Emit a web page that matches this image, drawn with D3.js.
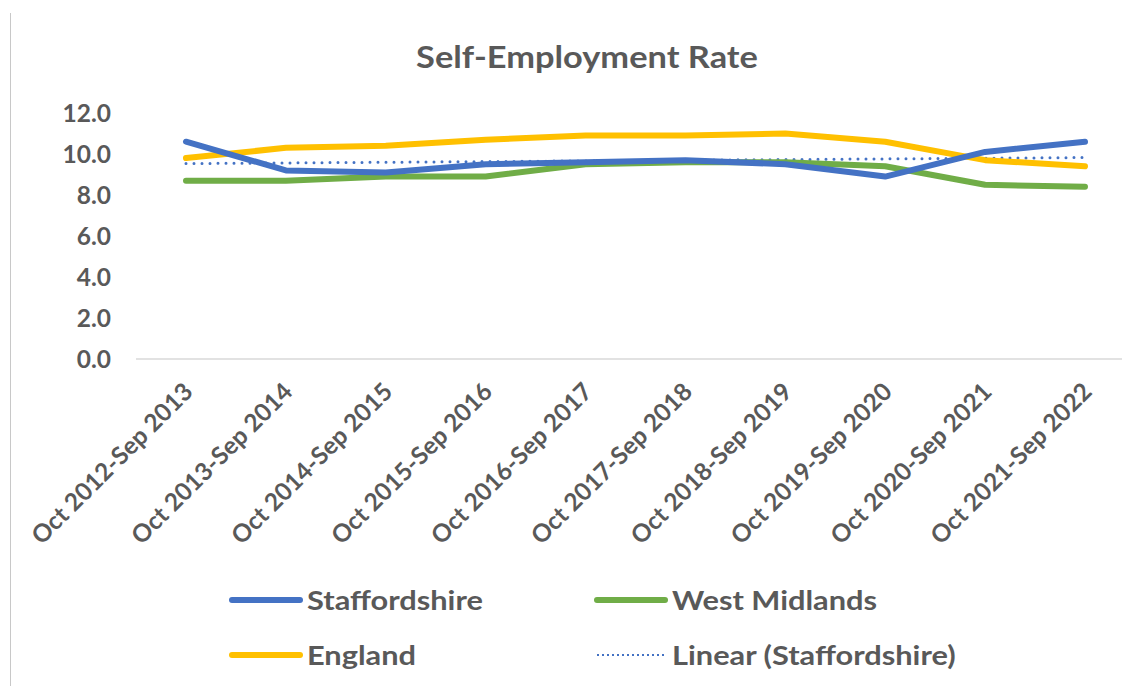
<!DOCTYPE html>
<html><head><meta charset="utf-8">
<script src="https://cdn.jsdelivr.net/npm/d3@7"></script>
<style>
html,body{margin:0;padding:0;background:#fff;}
svg{display:block;font-family:Lato, "Open Sans", sans-serif;}
</style></head>
<body>
<svg id="chart" width="1122" height="686"></svg>
<script>
const categories = ["Oct 2012-Sep 2013","Oct 2013-Sep 2014","Oct 2014-Sep 2015","Oct 2015-Sep 2016","Oct 2016-Sep 2017","Oct 2017-Sep 2018","Oct 2018-Sep 2019","Oct 2019-Sep 2020","Oct 2020-Sep 2021","Oct 2021-Sep 2022"];
const staffordshire = [10.6, 9.2, 9.1, 9.5, 9.6, 9.7, 9.5, 8.9, 10.1, 10.6];
const westMidlands = [8.7, 8.7, 8.9, 8.9, 9.5, 9.6, 9.6, 9.4, 8.5, 8.4];
const england = [9.8, 10.3, 10.4, 10.7, 10.9, 10.9, 11.0, 10.6, 9.7, 9.4];
const yTicks = [0, 2, 4, 6, 8, 10, 12];
const title = "Self-Employment Rate";

const svg = d3.select("#chart");
const textColor = "#595959";

// chart-area left border
svg.append("line").attr("x1",10.5).attr("x2",10.5).attr("y1",13).attr("y2",686)
  .attr("stroke","#c8c8c8").attr("stroke-width",1);

const x = d3.scalePoint().domain(categories).range([186, 1085]);
const y = d3.scaleLinear().domain([0, 12]).range([359, 113]);

// title
svg.append("g").attr("transform","translate(587,68) scale(1.11,1)")
  .append("text").attr("x", 0).attr("y", 0).attr("text-anchor","middle")
  .attr("fill", textColor).attr("font-size", 31).attr("font-weight","bold").text(title);

// y axis
const yAxis = svg.append("g").attr("transform","translate(111,0)")
  .call(d3.axisLeft(y).tickValues(yTicks).tickFormat(d3.format(".1f")).tickSize(0).tickPadding(0));
yAxis.select(".domain").remove();
yAxis.selectAll("text").attr("fill", textColor).attr("font-size", 24.5).attr("font-weight","bold")
  .attr("font-family","Lato, sans-serif").attr("dy","0.36em");

// baseline
svg.append("line").attr("x1",136).attr("x2",1140).attr("y1",y(0)).attr("y2",y(0))
  .attr("stroke","#d9d9d9").attr("stroke-width",1.5);

// x labels
const xg = svg.append("g");
xg.selectAll("text").data(categories).join("text")
  .attr("transform", d => `translate(${x(d)+2},${387}) rotate(-45)`)
  .attr("text-anchor","end").attr("dy","0.36em")
  .attr("fill", textColor).attr("font-size", 24.5).attr("font-weight","bold").text(d => d);

// trendline (linear regression of Staffordshire)
const n = staffordshire.length;
const xs = d3.range(n);
const mx = d3.mean(xs), my = d3.mean(staffordshire);
const slope = d3.sum(xs, i => (i-mx)*(staffordshire[i]-my)) / d3.sum(xs, i => (i-mx)*(i-mx));
const intercept = my - slope*mx;
const trend = xs.map(i => intercept + slope*i);

const line = d3.line().x((d,i) => x(categories[i])).y(d => y(d));

const series = [
  {name:"West Midlands", values: westMidlands, color:"#70AD47"},
  {name:"England", values: england, color:"#FFC000"},
  {name:"Staffordshire", values: staffordshire, color:"#4472C4"}
];
svg.append("path").attr("d", line(trend)).attr("fill","none").attr("stroke","#4472C4")
  .attr("stroke-width",3).attr("stroke-linecap","round").attr("stroke-dasharray","0,8");
series.forEach(s => {
  svg.append("path").attr("d", line(s.values)).attr("fill","none").attr("stroke", s.color)
    .attr("stroke-width",6).attr("stroke-linecap","round").attr("stroke-linejoin","round");
});

// legend
const legendItems = [
  {name:"Staffordshire", color:"#4472C4", dotted:false, x:232, y:600},
  {name:"West Midlands", color:"#70AD47", dotted:false, x:597, y:600},
  {name:"England", color:"#FFC000", dotted:false, x:232, y:655},
  {name:"Linear (Staffordshire)", color:"#4472C4", dotted:true, x:597, y:655}
];
const lg = svg.append("g").selectAll("g").data(legendItems).join("g")
  .attr("transform", d => `translate(${d.x},${d.y})`);
lg.append("line").attr("x1",0).attr("x2",68).attr("y1",0).attr("y2",0)
  .attr("stroke", d => d.color)
  .attr("stroke-width", d => d.dotted ? 2 : 6)
  .attr("stroke-linecap", d => d.dotted ? "butt" : "round")
  .attr("stroke-dasharray", d => d.dotted ? "2,3" : null);
lg.append("g").attr("transform","translate(75,0) scale(1.14,1)")
  .append("text").attr("x",0).attr("y",0).attr("dy","0.36em")
  .attr("fill", textColor).attr("font-size", 27).attr("font-weight","bold").text(d => d.name);
</script>
</body></html>
